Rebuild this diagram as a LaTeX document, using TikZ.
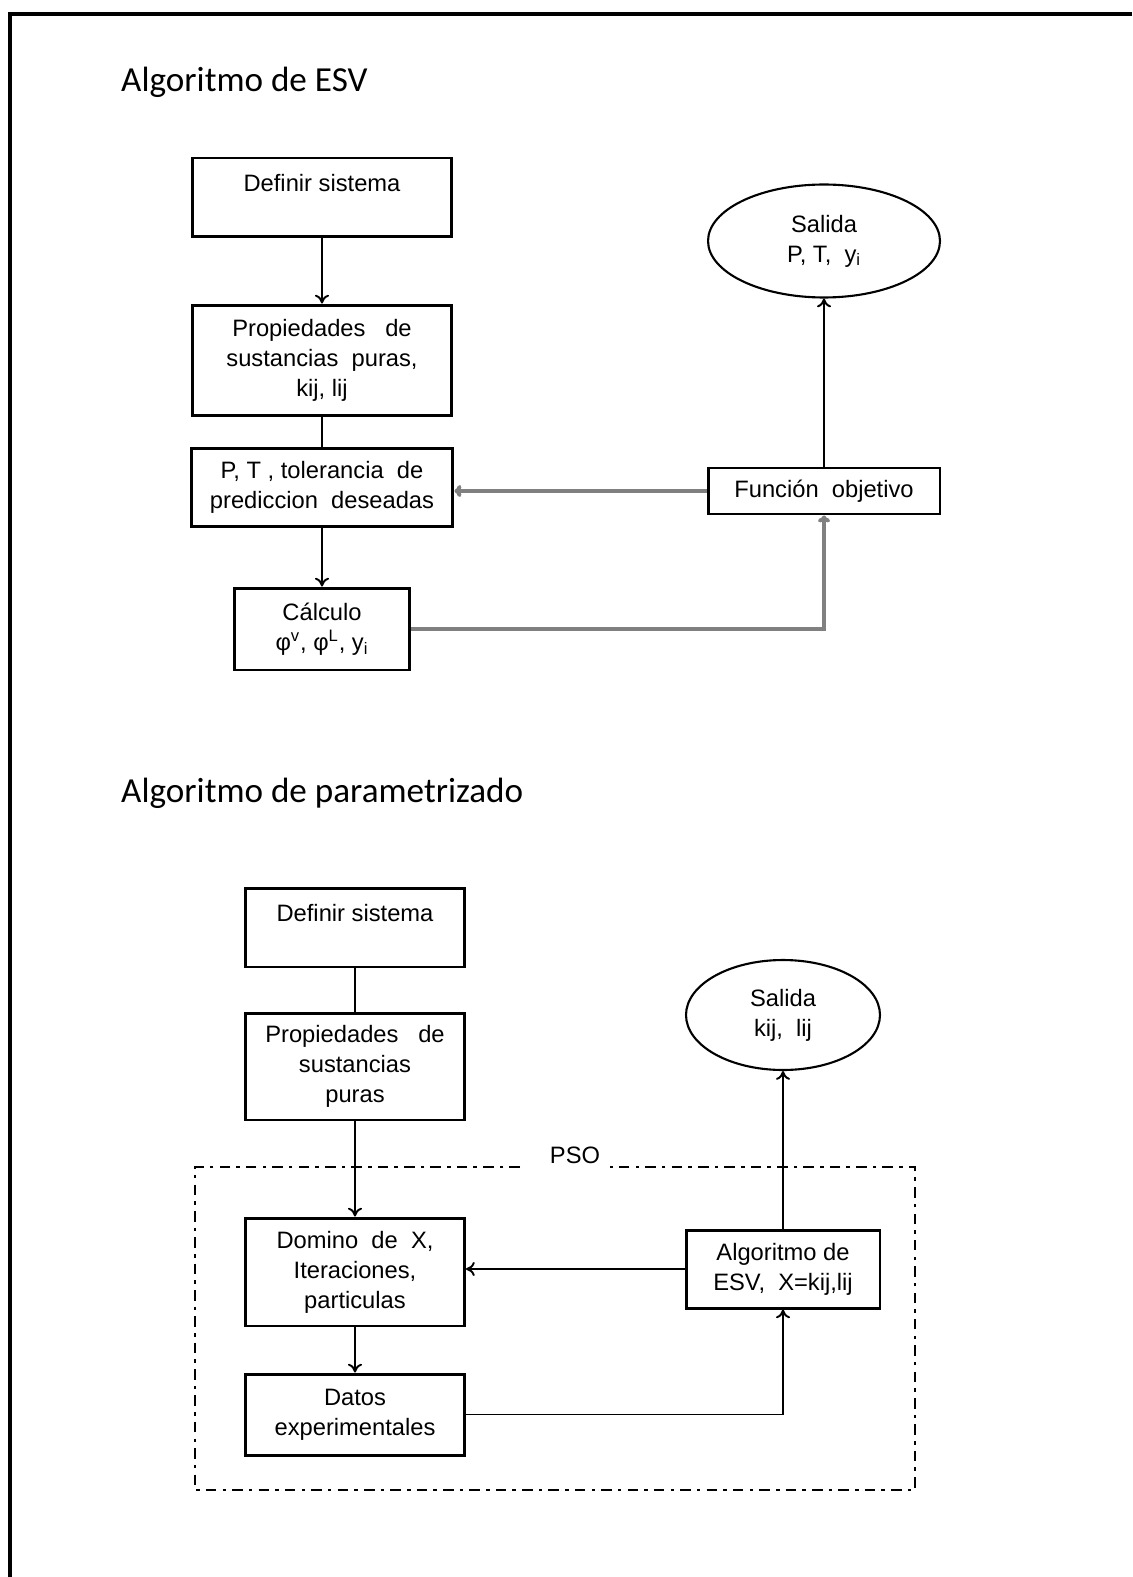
\documentclass[tikz,border=0pt]{standalone}
\usepackage{fontspec}
\setmainfont{Liberation Sans}
\newfontfamily\titlefont{Carlito}
\usetikzlibrary{shapes.geometric,arrows.meta}

\tikzset{
  caja/.style={draw,line width=1.7pt,align=center,inner sep=0pt},
  salida/.style={ellipse,draw,line width=1.2pt,align=center,inner sep=0pt},
  flecha/.style={line width=1.1pt,-{To[length=5pt,width=8pt]}},
  linea/.style={line width=1.1pt},
  gris/.style={line width=2.2pt,draw=gray,-{To[length=4pt,width=7pt]}},
  titulo/.style={anchor=west,font=\titlefont\fontsize{20}{24}\selectfont},
}

\begin{document}
\begin{tikzpicture}[x=0.02cm,y=-0.02cm,font=\fontsize{13.5}{17}\selectfont]
\useasboundingbox (0,0) rectangle (1132,1577);
% marco
\draw[line width=2.5pt] (1132,14) -- (10,14) -- (10,1577);

% Algoritmo de ESV
\node[titulo] (t1) at (115,82) {Algoritmo de ESV};
\node[caja,minimum width=5.2cm,minimum height=1.58cm] (def1) at (322,197.5) {Definir sistema\\\mbox{}};
\node[caja,minimum width=5.2cm,minimum height=2.22cm] (prop1) at (322,360.5) {Propiedades\ \ \ de\\sustancias\ \ puras,\\kij, lij};
\node[caja,minimum width=5.24cm,minimum height=1.58cm] (pt) at (322,487.5) {P, T , tolerancia\ \ de\\prediccion\ \ deseadas};
\node[caja,minimum width=3.52cm,minimum height=1.64cm] (calc) at (322,629) {Cálculo\\φ\textsuperscript{v}, φ\textsuperscript{L}, y\textsubscript{i}};
\node[salida,minimum width=4.64cm,minimum height=2.26cm] (sal1) at (824,241) {Salida\\P, T,\ \ y\textsubscript{i}};
\node[caja,minimum width=4.64cm,minimum height=0.92cm] (fun) at (824,491) {Función\ \ objetivo};

\foreach \from/\to in {def1/prop1,pt/calc,fun/sal1}
  \draw[flecha] (\from) -- (\to);
\draw[linea] (prop1) -- (pt);
\draw[gris] (calc.east) -| (fun.south);
\draw[gris] (fun.west) -- (fun.west -| pt.east);

% Algoritmo de parametrizado
\node[titulo] (t2) at (115,793) {Algoritmo de parametrizado};
\node[caja,minimum width=4.38cm,minimum height=1.58cm] (def2) at (355,927.5) {Definir sistema\\\mbox{}};
\node[caja,minimum width=4.38cm,minimum height=2.14cm] (prop2) at (355,1066.5) {Propiedades\ \ \ de\\sustancias\\puras};
\node[caja,minimum width=4.38cm,minimum height=2.16cm] (dom) at (355,1272) {Domino\ \ de\ \ X,\\Iteraciones,\\particulas};
\node[caja,minimum width=4.38cm,minimum height=1.62cm] (datos) at (355,1414.5) {Datos\\experimentales};
\node[caja,minimum width=3.88cm,minimum height=1.56cm] (alg) at (783,1269) {Algoritmo de\\ESV,\ \ X=kij,lij};
\node[salida,minimum width=3.88cm,minimum height=2.2cm] (sal2) at (783,1015) {Salida\\kij,\ \ lij};

% PSO
\draw[line width=1.2pt,dash pattern=on 6pt off 3.5pt on 2pt off 3.5pt] (520,1167) -- (195,1167) -- (195,1490) -- (915,1490) -- (915,1167) -- (610,1167);
\node (pso) at (575,1155) {PSO};

\foreach \from/\to in {prop2/dom,dom/datos,alg/sal2}
  \draw[flecha] (\from) -- (\to);
\draw[linea] (def2) -- (prop2);
\draw[flecha] (datos.east) -| (alg.south);
\draw[flecha] (alg.west) -- (alg.west -| dom.east);
\end{tikzpicture}
\end{document}
